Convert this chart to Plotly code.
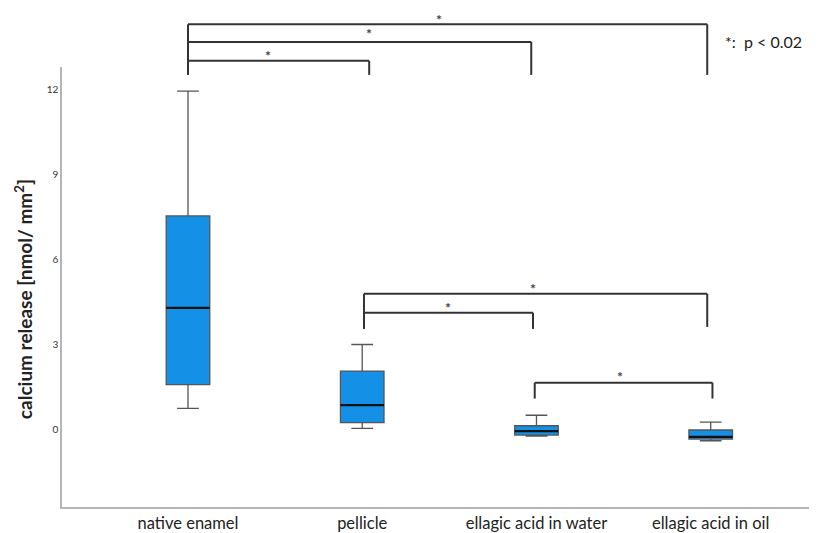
import plotly.graph_objects as go

categories = ["native enamel", "pellicle", "ellagic acid in water", "ellagic acid in oil"]
lower_whisker = [0.74, 0.04, -0.24, -0.40]
q1 = [1.58, 0.24, -0.20, -0.34]
median = [4.29, 0.86, -0.06, -0.26]
q3 = [7.54, 2.06, 0.13, -0.02]
upper_whisker = [11.95, 3.00, 0.50, 0.26]
y_ticks = [0, 3, 6, 9, 12]

# significance comparisons (index pairs)
top_pairs = [(0, 1), (0, 2), (0, 3)]

FONT = "Lato"
fig = go.Figure()
fig.add_trace(go.Box(
    x=categories, q1=q1, median=median, q3=q3,
    lowerfence=lower_whisker, upperfence=upper_whisker,
    fillcolor="#1490e6", line=dict(color="#555555", width=1.3),
    width=0.25, whiskerwidth=0.5, boxpoints=False, showlegend=False,
    hoverinfo="skip",
))
# dark median lines
for i, m in enumerate(median):
    fig.add_shape(type="line", xref="x", yref="y", x0=i - 0.125, x1=i + 0.125,
                  y0=m, y1=m, line=dict(color="#111111", width=2.2))

BR = dict(color="#333333", width=2)
STAR = dict(family=FONT, size=14, color="#444")
# top brackets (paper y)
top_levels = [1.014, 1.057, 1.097]
top_ends = [1.04, 1.97, 2.98]
# (x, y, yanchor, yshift)
star_top = [(0.46, 1.034, "middle", -3), (1.04, 1.084, "middle", -3), (1.44, 1.132, "top", 0)]
drop_paper = 0.982
fig.add_shape(type="line", xref="x", yref="paper", x0=0, x1=0,
              y0=drop_paper, y1=top_levels[-1], line=BR)
for (a, b), lvl, xe, (sx, sy, ya, ys) in zip(top_pairs, top_levels, top_ends, star_top):
    fig.add_shape(type="line", xref="x", yref="paper", x0=a, x1=xe, y0=lvl, y1=lvl, line=BR)
    fig.add_shape(type="line", xref="x", yref="paper", x0=xe, x1=xe, y0=lvl, y1=drop_paper, line=BR)
    fig.add_annotation(x=sx, y=sy, xref="x", yref="paper", text="<b>*</b>", showarrow=False,
                       xanchor="center", yanchor=ya, yshift=ys, font=STAR)

# lower brackets (data y)
low_specs = [  # (x0, x1, level, drop_left, drop_right, star_x, star_y)
    (1.01, 1.98, 4.12, 3.55, 3.55, 1.49, 4.42),
    (1.01, 2.98, 4.79, 3.55, 3.62, 1.98, 5.07),
    (1.99, 3.01, 1.65, 1.09, 1.09, 2.48, 1.97),
]
for x0, x1, lvl, dl, dr, sx, sy in low_specs:
    fig.add_shape(type="line", xref="x", yref="y", x0=x0, x1=x1, y0=lvl, y1=lvl, line=BR)
    fig.add_shape(type="line", xref="x", yref="y", x0=x0, x1=x0, y0=lvl, y1=dl, line=BR)
    fig.add_shape(type="line", xref="x", yref="y", x0=x1, x1=x1, y0=lvl, y1=dr, line=BR)
    fig.add_annotation(x=sx, y=sy, xref="x", yref="y", text="<b>*</b>", showarrow=False,
                       xanchor="center", yanchor="middle", yshift=-3, font=STAR)

fig.add_annotation(x=0.876, y=1.059, xref="paper", yref="paper", xanchor="left", yanchor="middle",
                   text="*:&nbsp;&nbsp;p < 0.02", showarrow=False,
                   font=dict(family=FONT, size=16, color="#222"))

fig.add_annotation(x=-0.05, y=0.473, xref="paper", yref="paper", xanchor="center", yanchor="middle",
                   textangle=-90, showarrow=False,
                   text="<b>calcium release [nmol/ mm<sup>2</sup>]</b>",
                   font=dict(family=FONT, size=19, color="#222"))

fig.update_layout(
    width=809, height=525,
    margin=dict(l=54, r=0, t=59, b=24),
    plot_bgcolor="white", paper_bgcolor="white",
    font=dict(family=FONT, color="#222"),
    xaxis=dict(type="category", range=[-0.723, 3.61], showgrid=False, zeroline=False,
               showline=True, linecolor="#b5b5b5", linewidth=1.5, ticks="",
               tickfont=dict(family=FONT, size=16.5, color="#222")),
    yaxis=dict(range=[-2.74, 12.8], tickvals=y_ticks, showgrid=False, zeroline=False,
               showline=True, linecolor="#b5b5b5", linewidth=1.5, ticks="",
               tickfont=dict(family=FONT, size=10, color="#333")),
)
fig.write_html("out.html")
